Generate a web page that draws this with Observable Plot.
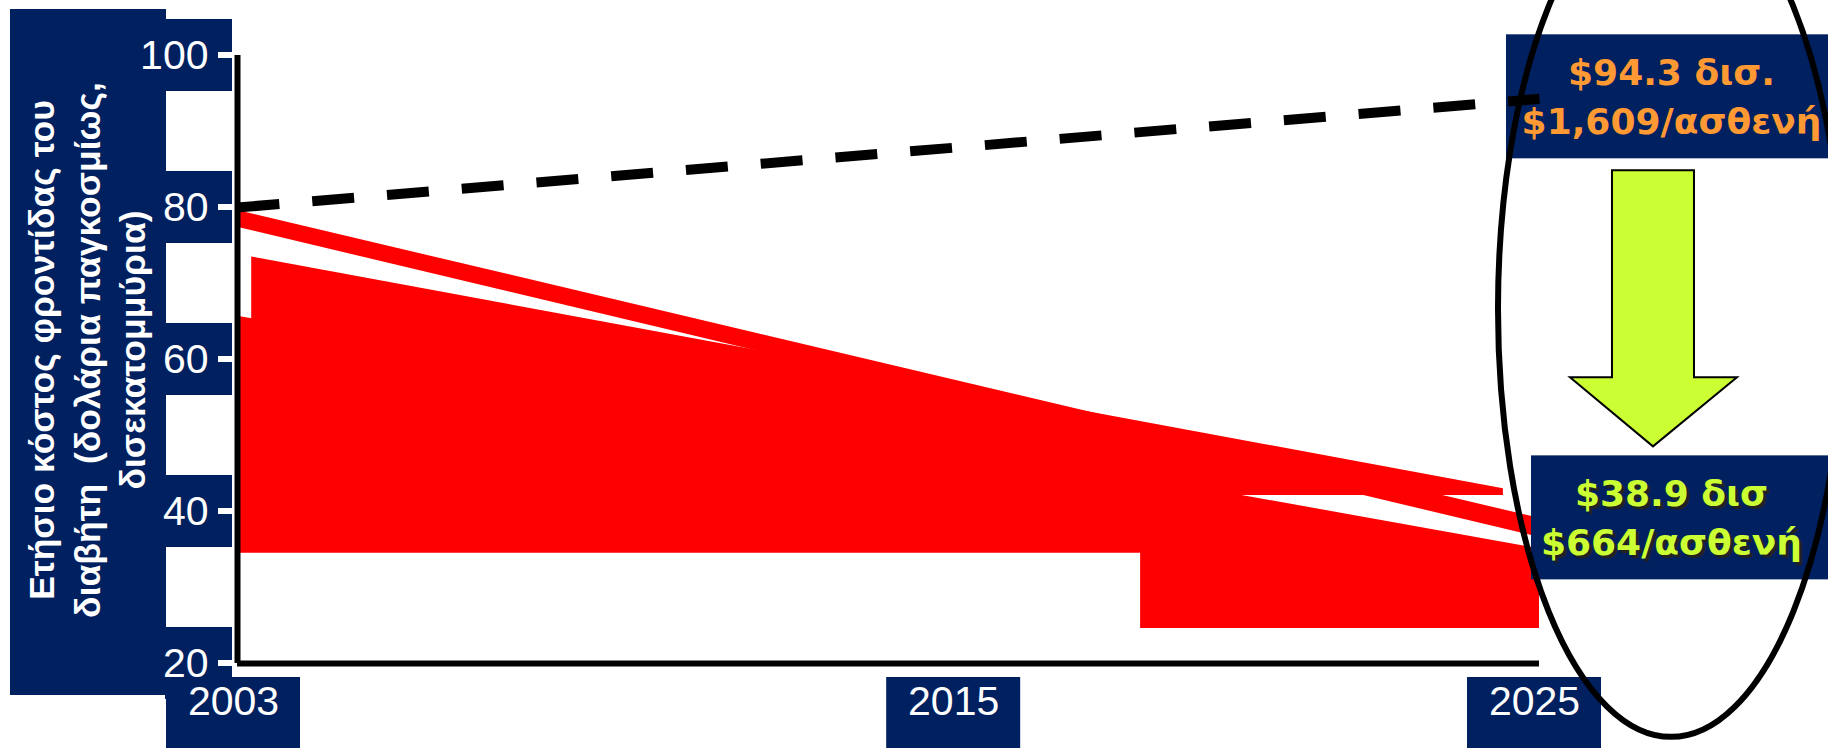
<!DOCTYPE html>
<html><head><meta charset="utf-8">
<script src="https://cdn.jsdelivr.net/npm/d3@7"></script>
<script src="https://cdn.jsdelivr.net/npm/@observablehq/plot@0.6"></script>
<style>
html,body{margin:0;padding:0;background:#fff;}
#chart{width:1828px;height:748px;overflow:hidden;}
#chart svg{font-family:"Liberation Sans",Arial,sans-serif;}
</style></head><body><div id="chart"></div>
<script>
const NAVY = "#002060";
const RED = "#ff0000";
const ORANGE = "#ff9933";
const LIME = "#ccff33";

// axes
const xTicks = [2003, 2015, 2025];
const yTicks = [20, 40, 60, 80, 100];
const yTitleLines = ["Ετήσιο κόστος φροντίδας του", "διαβήτη  (δολάρια παγκοσμίως,", "δισεκατομμύρια)"];

// projected cost (dashed line)
const projYears = [2003, 2025];
const projCost = [80, 94.3];

// red band
const bandYears = [2003, 2025];
const bandTop = [79.6, 39.1];
const bandBottom = [77.4, 36.6];

// red wedge
const wedgeYears = [2003.24, 2024.39];
const wedgeTop = [73.5, 43.0];
const wedgeBottom = [42.1, 42.1];

// red base block
const baseYears = [2003, 2018.26, 2018.26, 2025];
const baseTop = [65.7, 44.5, 44.5, 35.1];
const baseBottom = [34.5, 34.5, 24.6, 24.6];

// callouts
const calloutYear = 2027.23;
const calloutValues = [94.3, 38.9];
const calloutLine1 = ["$94.3 δισ.", "$38.9 δισ"];
const calloutLine2 = ["$1,609/ασθενή", "$664/ασθενή"];
const calloutColors = [ORANGE, LIME];

// highlight ellipse (data units)
const ellipseCenter = [2027.23, 66.58];
const ellipseRadius = [2.923, 56.3];

const proj = projYears.map((x, i) => ({x, y: projCost[i]}));
const band = bandYears.map((x, i) => ({x, y1: bandTop[i], y2: bandBottom[i]}));
const wedge = wedgeYears.map((x, i) => ({x, y1: wedgeTop[i], y2: wedgeBottom[i]}));
const base = baseYears.map((x, i) => ({x, y1: baseTop[i], y2: baseBottom[i]}));
const callouts = calloutValues.map((v, i) => ({v, l1: calloutLine1[i], l2: calloutLine2[i], c: calloutColors[i]}));

const NS = "http://www.w3.org/2000/svg";
function el(tag, attrs, text) {
  const e = document.createElementNS(NS, tag);
  for (const k in attrs) e.setAttribute(k, attrs[k]);
  if (text != null) e.textContent = text;
  return e;
}

const xLabelNudge = [-4, 6, -5];

// navy backing boxes for the axes, tick marks and title
const axisBoxes = (index, scales, values, dims) => {
  const g = el("g", {});
  const x = scales.x, y = scales.y;
  g.appendChild(el("rect", {x: 10, y: 9, width: 156, height: 686, fill: NAVY}));
  for (const t of yTicks) g.appendChild(el("rect", {x: 165, y: y(t) - 36, width: 67, height: 72, fill: NAVY}));
  const by = dims.height - dims.marginBottom + 14;
  xTicks.forEach((t, i) => g.appendChild(el("rect", {x: x(t) - 67 + xLabelNudge[i], y: by, width: 134, height: 80, fill: NAVY})));
  for (const t of yTicks) g.appendChild(el("line", {x1: x(2003) - 19, x2: x(2003) - 5, y1: y(t), y2: y(t), stroke: "white", "stroke-width": 6}));
  yTitleLines.forEach((s, i) => {
    const cx = 42 + i * 45.5, cy = 350;
    g.appendChild(el("text", {transform: `translate(${cx},${cy}) rotate(-90)`, "text-anchor": "middle", dy: "0.35em",
      fill: "white", "font-size": 35.5, "font-weight": "bold"}, s));
  });
  return g;
};

const calloutBoxes = (index, scales, values, dims) => {
  const g = el("g", {});
  const x = scales.x, y = scales.y;
  const left = [x(2025) - 33, x(2025) - 8];
  calloutValues.forEach((v, i) => {
    g.appendChild(el("rect", {x: left[i], y: y(v) - 64, width: dims.width - left[i], height: 124, fill: NAVY}));
  });
  return g;
};

const arrow = (index, scales) => {
  const x = scales.x, y = scales.y;
  const cx = x(calloutYear) - 18;
  const top = y(calloutValues[0]) + 72;
  const tip = y(calloutValues[1]) - 73;
  const headBase = tip - 69;
  const pts = [[cx - 41, top], [cx + 41, top], [cx + 41, headBase], [cx + 84, headBase], [cx, tip], [cx - 83, headBase], [cx - 41, headBase]];
  return el("polygon", {points: pts.map(p => p.join(",")).join(" "), fill: LIME, stroke: "black", "stroke-width": 2, "stroke-linejoin": "miter"});
};

const ellipse = (index, scales) => {
  const x = scales.x, y = scales.y;
  const cx = x(ellipseCenter[0]), cy = y(ellipseCenter[1]);
  const rx = x(ellipseCenter[0] + ellipseRadius[0]) - cx;
  const ry = cy - y(ellipseCenter[1] + ellipseRadius[1]);
  return el("ellipse", {cx, cy, rx, ry, fill: "none", stroke: "black", "stroke-width": 6});
};

const CALLOUT_FONT = "DejaVu Sans, Verdana, sans-serif";
const chart = Plot.plot({
  width: 1828,
  height: 748,
  marginLeft: 237,
  marginRight: 289,
  marginTop: 55,
  marginBottom: 85,
  x: {domain: [2003, 2025], axis: null},
  y: {domain: [20, 100], axis: null},
  style: {background: "white", overflow: "hidden", fontFamily: "Liberation Sans, Arial, sans-serif"},
  marks: [
    axisBoxes,
    Plot.areaY(base, {x: "x", y1: "y1", y2: "y2", fill: RED}),
    Plot.areaY(wedge, {x: "x", y1: "y1", y2: "y2", fill: RED}),
    Plot.areaY(band, {x: "x", y1: "y1", y2: "y2", fill: RED}),
    Plot.ruleX([2003], {y1: 20, y2: 100, stroke: "black", strokeWidth: 6}),
    Plot.ruleY([20], {x1: 2003, x2: 2025, stroke: "black", strokeWidth: 6}),
    Plot.text(yTicks, {y: d => d, frameAnchor: "left", dx: -29, textAnchor: "end", fill: "white", fontSize: 41, text: d => String(d)}),
    ...xTicks.map((t, i) => Plot.text([t], {x: d => d, frameAnchor: "bottom", dx: xLabelNudge[i], dy: 51, fill: "white", fontSize: 41, text: d => String(d)})),
    calloutBoxes,
    Plot.line(proj, {x: "x", y: "y", stroke: "black", strokeWidth: 10, strokeDasharray: "42,33", strokeLinecap: "butt"}),
    arrow,
    Plot.text(callouts.filter(d => d.c === LIME), {x: () => calloutYear, y: "v", text: "l1", dx: 3, dy: -22, fill: "#222", fontSize: 36, fontWeight: "bold", fontFamily: CALLOUT_FONT}),
    Plot.text(callouts.filter(d => d.c === LIME), {x: () => calloutYear, y: "v", text: "l2", dx: 3, dy: 27, fill: "#222", fontSize: 36, fontWeight: "bold", fontFamily: CALLOUT_FONT}),
    Plot.text(callouts, {x: () => calloutYear, y: "v", text: "l1", dy: -25, fill: d => d.c, fontSize: 36, fontWeight: "bold", fontFamily: CALLOUT_FONT}),
    Plot.text(callouts, {x: () => calloutYear, y: "v", text: "l2", dy: 24, fill: d => d.c, fontSize: 36, fontWeight: "bold", fontFamily: CALLOUT_FONT}),
    ellipse
  ]
});
document.getElementById("chart").appendChild(chart);
</script>
</body></html>
